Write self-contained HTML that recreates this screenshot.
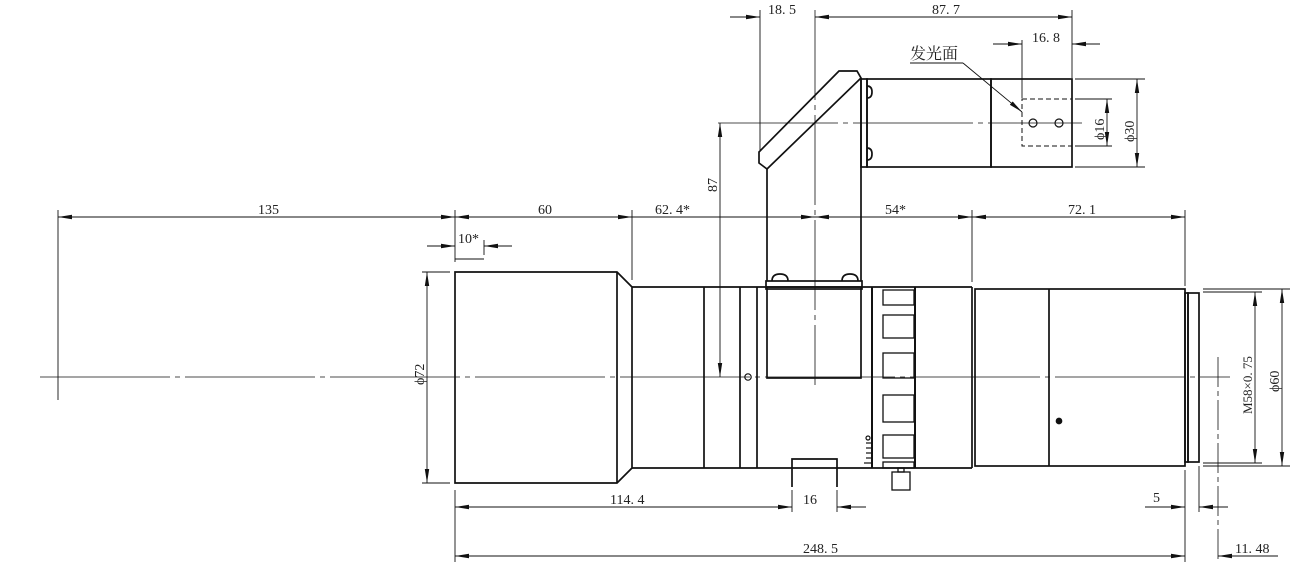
<!DOCTYPE html>
<html><head><meta charset="utf-8"><style>
html,body{margin:0;padding:0;background:#fff;}
svg{display:block;}
text{font-family:"Liberation Serif","Noto Serif CJK SC",serif;font-size:14px;fill:#222;}
</style></head><body>
<svg width="1304" height="576" viewBox="0 0 1304 576" xmlns="http://www.w3.org/2000/svg">
<defs>
<marker id="a" markerWidth="14" markerHeight="6" refX="14" refY="3" orient="auto-start-reverse" markerUnits="userSpaceOnUse">
<path d="M0,0.8 L14,3 L0,5.2 Z" fill="#111"/></marker>
</defs>
<g stroke="#111" fill="none" stroke-width="1">
<line x1="40" y1="377" x2="1230" y2="377" stroke-dasharray="130,5,5,5" stroke-width="0.8"/>
<line x1="815" y1="10" x2="815" y2="385" stroke-dasharray="90,5,5,5" stroke-width="0.8"/>
<line x1="718" y1="123" x2="1082" y2="123" stroke-dasharray="120,5,5,5" stroke-width="0.8"/>
<line x1="1218" y1="357" x2="1218" y2="560" stroke-dasharray="30,4,5,4" stroke-width="0.8"/>
</g>
<g stroke="#111" fill="none" stroke-width="1.7">
<path d="M455,272 H617 L632,287 V468 L617,483 H455 Z"/>
<line x1="617" y1="272" x2="617" y2="483"/>
<line x1="632" y1="287" x2="972" y2="287"/>
<line x1="632" y1="468" x2="972" y2="468"/>
<line x1="704" y1="287" x2="704" y2="468"/>
<line x1="740" y1="287" x2="740" y2="468"/>
<line x1="757" y1="287" x2="757" y2="468"/>
<circle cx="748" cy="377" r="3.2" stroke-width="1.2"/>
<rect x="767" y="287" width="94" height="91"/>
<rect x="766" y="281" width="96" height="8"/>
<path d="M772,281 q0,-7 8,-7 q8,0 8,7" />
<path d="M842,281 q0,-7 8,-7 q8,0 8,7" />
<line x1="767" y1="169" x2="767" y2="281"/>
<line x1="861" y1="78" x2="861" y2="281"/>
<path d="M839,71 H857 L861,78 L767,169 L759,163 V152 Z"/>
<rect x="861" y="79" width="6" height="88"/>
<path d="M867,86 q5,0 5,6 q0,6 -5,6" /><path d="M867,148 q5,0 5,6 q0,6 -5,6"/>
<rect x="867" y="79" width="124" height="88"/>
<rect x="991" y="79" width="81" height="88"/>
<rect x="1022" y="99" width="50" height="47" stroke-dasharray="5,3" stroke-width="1"/>
<circle cx="1033" cy="123" r="4" stroke-width="1.2"/>
<circle cx="1059" cy="123" r="4" stroke-width="1.2"/>
<line x1="872" y1="287" x2="872" y2="468" stroke-width="2"/>
<line x1="915" y1="287" x2="915" y2="468" stroke-width="2"/>
<g stroke-width="1.3">
<rect x="883" y="290" width="31" height="15"/>
<rect x="883" y="315" width="31" height="23"/>
<rect x="883" y="353" width="31" height="25"/>
<rect x="883" y="395" width="31" height="27"/>
<rect x="883" y="435" width="31" height="23"/>
<rect x="883" y="462" width="31" height="6"/>
<rect x="892" y="472" width="18" height="18"/>
<rect x="898" y="468" width="6" height="4"/>
</g>
<g stroke-width="1.2">
<line x1="864" y1="463" x2="872" y2="463"/><line x1="866" y1="458" x2="872" y2="458"/><line x1="866" y1="453" x2="872" y2="453"/>
<line x1="866" y1="448" x2="872" y2="448"/><line x1="866" y1="443" x2="872" y2="443"/><circle cx="868" cy="438" r="2"/>
</g>
<line x1="972" y1="287" x2="972" y2="468"/>
<rect x="975" y="289" width="210" height="177"/>
<line x1="1049" y1="289" x2="1049" y2="466"/>
<circle cx="1059" cy="421" r="2.5" fill="#111"/>
<rect x="1185" y="293" width="3" height="169"/>
<rect x="1188" y="293" width="11" height="169"/>
<path d="M792,487 V459 H837 V487"/>
</g>
<g stroke="#111" stroke-width="0.9" fill="none">
<line x1="58" y1="210" x2="58" y2="400"/>
<line x1="455" y1="210" x2="455" y2="262"/>
<line x1="632" y1="210" x2="632" y2="280"/>
<line x1="972" y1="210" x2="972" y2="282"/>
<line x1="1185" y1="210" x2="1185" y2="286"/>
<line x1="484" y1="240" x2="484" y2="255"/>
<line x1="455" y1="259" x2="484" y2="259"/>
<line x1="760" y1="10" x2="760" y2="150"/>
<line x1="1072" y1="10" x2="1072" y2="78"/>
<line x1="1022" y1="40" x2="1022" y2="98"/>
<line x1="1075" y1="99" x2="1112" y2="99"/><line x1="1075" y1="146" x2="1112" y2="146"/>
<line x1="1075" y1="79" x2="1145" y2="79"/><line x1="1075" y1="167" x2="1145" y2="167"/>
<line x1="422" y1="272" x2="450" y2="272"/><line x1="422" y1="483" x2="450" y2="483"/>
<line x1="1203" y1="292" x2="1262" y2="292"/><line x1="1203" y1="463" x2="1262" y2="463"/>
<line x1="1203" y1="289" x2="1290" y2="289"/><line x1="1203" y1="466" x2="1290" y2="466"/>
<line x1="455" y1="490" x2="455" y2="562"/>
<line x1="792" y1="490" x2="792" y2="512"/><line x1="837" y1="490" x2="837" y2="512"/>
<line x1="1185" y1="470" x2="1185" y2="562"/>
<line x1="1199" y1="466" x2="1199" y2="512"/>
<line x1="58" y1="217" x2="455" y2="217" marker-start="url(#a)" marker-end="url(#a)"/>
<line x1="455" y1="217" x2="632" y2="217" marker-start="url(#a)" marker-end="url(#a)"/>
<line x1="632" y1="217" x2="720" y2="217"/>
<line x1="720" y1="217" x2="815" y2="217"/>
<line x1="800" y1="217" x2="815" y2="217" marker-end="url(#a)"/>
<line x1="815" y1="217" x2="972" y2="217" marker-start="url(#a)" marker-end="url(#a)"/>
<line x1="972" y1="217" x2="1185" y2="217" marker-start="url(#a)" marker-end="url(#a)"/>
<line x1="427" y1="246" x2="455" y2="246" marker-end="url(#a)"/>
<line x1="512" y1="246" x2="484" y2="246" marker-end="url(#a)"/>
<line x1="730" y1="17" x2="760" y2="17" marker-end="url(#a)"/>
<line x1="815" y1="17" x2="1072" y2="17" marker-start="url(#a)" marker-end="url(#a)"/>
<line x1="993" y1="44" x2="1022" y2="44" marker-end="url(#a)"/>
<line x1="1100" y1="44" x2="1072" y2="44" marker-end="url(#a)"/>
<line x1="1107" y1="99" x2="1107" y2="146" marker-start="url(#a)" marker-end="url(#a)"/>
<line x1="1137" y1="79" x2="1137" y2="167" marker-start="url(#a)" marker-end="url(#a)"/>
<line x1="720" y1="123" x2="720" y2="377" marker-start="url(#a)" marker-end="url(#a)"/>
<line x1="427" y1="272" x2="427" y2="483" marker-start="url(#a)" marker-end="url(#a)"/>
<line x1="1255" y1="292" x2="1255" y2="463" marker-start="url(#a)" marker-end="url(#a)"/>
<line x1="1282" y1="289" x2="1282" y2="466" marker-start="url(#a)" marker-end="url(#a)"/>
<line x1="455" y1="507" x2="792" y2="507" marker-start="url(#a)" marker-end="url(#a)"/>
<line x1="866" y1="507" x2="837" y2="507" marker-end="url(#a)"/>
<line x1="1145" y1="507" x2="1185" y2="507" marker-end="url(#a)"/>
<line x1="1228" y1="507" x2="1199" y2="507" marker-end="url(#a)"/>
<line x1="455" y1="556" x2="1185" y2="556" marker-start="url(#a)" marker-end="url(#a)"/>
<line x1="1278" y1="556" x2="1218" y2="556" marker-end="url(#a)"/>
<line x1="910" y1="63" x2="963" y2="63"/>
<line x1="963" y1="63" x2="1022" y2="112" marker-end="url(#a)"/>
</g>
<text x="258" y="214">135</text>
<text x="538" y="214">60</text>
<text x="655" y="214">62. 4*</text>
<text x="885" y="214">54*</text>
<text x="1068" y="214">72. 1</text>
<text x="458" y="243">10*</text>
<text x="768" y="14">18. 5</text>
<text x="932" y="14">87. 7</text>
<text x="1032" y="42">16. 8</text>
<text x="910" y="59" style="font-size:16px">发光面</text>
<text x="610" y="504">114. 4</text>
<text x="803" y="504">16</text>
<text x="1153" y="502">5</text>
<text x="803" y="553">248. 5</text>
<text x="1235" y="553">11. 48</text>
<text transform="translate(717,192) rotate(-90)">87</text>
<text transform="translate(424,385) rotate(-90)">ϕ72</text>
<text transform="translate(1104,140) rotate(-90)">ϕ16</text>
<text transform="translate(1134,142) rotate(-90)">ϕ30</text>
<text transform="translate(1252,414) rotate(-90)" style="font-size:13px">M58×0. 75</text>
<text transform="translate(1279,392) rotate(-90)">ϕ60</text>
</svg>
</body></html>
